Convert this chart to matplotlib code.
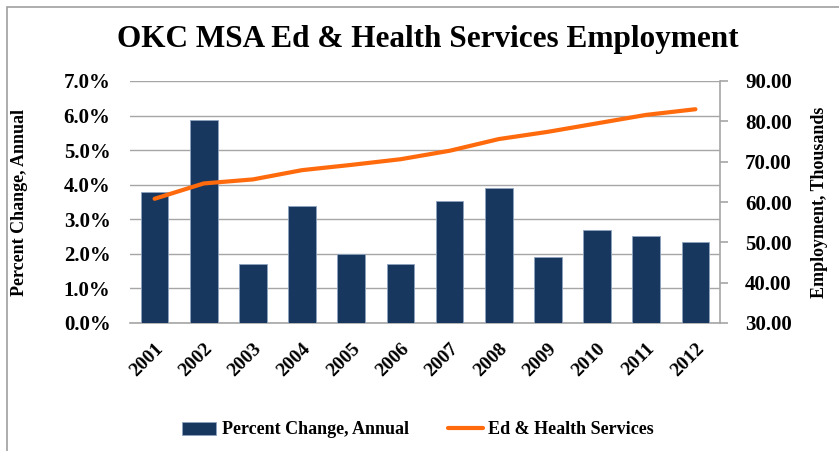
import matplotlib.pyplot as plt
from matplotlib.patches import Rectangle
from matplotlib.ticker import FuncFormatter

years = ["2001", "2002", "2003", "2004", "2005", "2006",
         "2007", "2008", "2009", "2010", "2011", "2012"]
pct_change = [3.80, 5.86, 1.70, 3.38, 2.00, 1.70,
              3.53, 3.91, 1.92, 2.69, 2.51, 2.34]
employment = [60.8, 64.6, 65.6, 67.9, 69.2, 70.6,
              72.7, 75.6, 77.4, 79.5, 81.6, 83.0]

BAR = "#17375e"
LINE = "#ff6a0d"
GRID = "#a6a6a6"
FONT = "Liberation Serif"

plt.rcParams["font.family"] = FONT
plt.rcParams["font.weight"] = "bold"

fig = plt.figure(figsize=(8.39, 4.51), dpi=100)
ax1 = fig.add_axes([130 / 839, 1 - 323 / 451, 590 / 839, 242 / 451])
ax2 = ax1.twinx()

x = list(range(len(years)))
ax1.bar(x, pct_change, width=0.56, color=BAR, edgecolor="#8ea3bf",
        linewidth=0.6, label="Percent Change, Annual", zorder=3)
ax2.plot(x, employment, color=LINE, linewidth=3, solid_capstyle="round",
         label="Ed & Health Services", zorder=4)

ax1.set_xlim(-0.5, 11.5)
ax1.set_ylim(0, 7)
ax1.set_yticks([0, 1, 2, 3, 4, 5, 6, 7])
ax1.yaxis.set_major_formatter(FuncFormatter(lambda v, _: f"{v:.1f}%"))
ax2.set_ylim(30, 90)
ax2.set_yticks([30, 40, 50, 60, 70, 80, 90])
ax2.yaxis.set_major_formatter(FuncFormatter(lambda v, _: f"{v:.2f}"))

ax1.grid(axis="y", color=GRID, linewidth=1.0, zorder=0)
ax1.set_axisbelow(True)
for a in (ax1, ax2):
    for s in a.spines.values():
        s.set_visible(False)
ax1.spines["bottom"].set_visible(True)
ax1.spines["bottom"].set_color(GRID)
ax1.spines["bottom"].set_linewidth(1.2)
ax2.spines["right"].set_visible(True)
ax2.spines["right"].set_color(GRID)
ax2.spines["right"].set_linewidth(1.2)

ax1.set_xticks(x)
ax1.set_xticklabels(years, rotation=45, ha="right", rotation_mode="anchor",
                    fontsize=14, fontweight="bold")
ax1.tick_params(axis="x", length=0, pad=12)
ax1.tick_params(axis="y", length=0, pad=14, labelsize=15)
ax2.tick_params(axis="y", length=6, width=1.2, color=GRID, pad=12, labelsize=15)
for lab in ax1.get_yticklabels() + ax2.get_yticklabels():
    lab.set_fontweight("bold")

ax1.set_ylabel("Percent Change, Annual", fontsize=13, fontweight="bold", labelpad=26)
ax2.set_ylabel("Employment, Thousands", fontsize=13, fontweight="bold", labelpad=14)

fig.text(428 / 839, 1 - 40 / 451, "OKC MSA Ed & Health Services Employment",
         ha="center", va="center", fontsize=22.5, fontweight="bold")

h1, l1 = ax1.get_legend_handles_labels()
h2, l2 = ax2.get_legend_handles_labels()
fig.legend(h1 + h2, l1 + l2, loc="center", bbox_to_anchor=(418 / 839, 1 - 430 / 451),
           ncol=2, frameon=False, columnspacing=2.2,
           handlelength=1.9, handletextpad=0.3, prop={"weight": "bold", "size": 13})

fig.patches.append(Rectangle((7 / 839, -0.1), 1.2, 1.1 - 7 / 451,
                             transform=fig.transFigure, fill=False,
                             edgecolor="#a0a0a0", linewidth=1.2))

fig.savefig("out.png", dpi=100)
